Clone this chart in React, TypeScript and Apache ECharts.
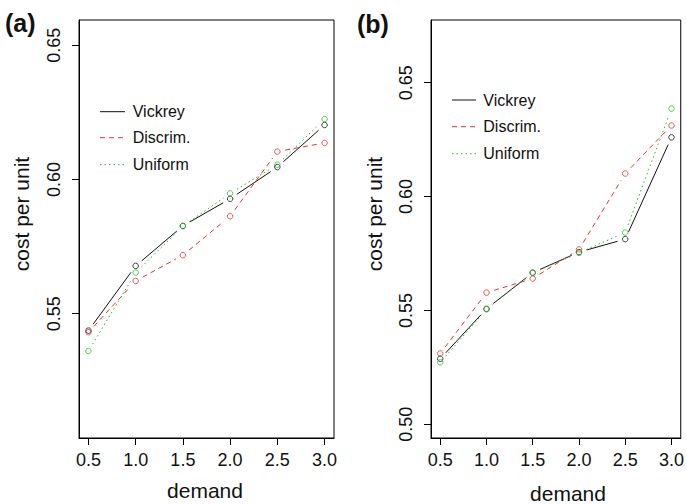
import React, { useEffect, useRef } from "react";
import * as echarts from "echarts";

const demand = [0.5, 1.0, 1.5, 2.0, 2.5, 3.0];
const xTicks = [0.5, 1.0, 1.5, 2.0, 2.5, 3.0];
const yTicksA = [0.55, 0.6, 0.65];
const yTicksB = [0.5, 0.55, 0.6, 0.65];

const vickreyA = [0.5437, 0.5678, 0.5827, 0.5928, 0.6046, 0.6203];
const discrimA = [0.5431, 0.5622, 0.5718, 0.5863, 0.6104, 0.6136];
const uniformA = [0.5361, 0.5653, 0.5826, 0.5948, 0.6055, 0.6225];

const vickreyB = [0.5288, 0.5507, 0.5666, 0.5756, 0.5813, 0.626];
const discrimB = [0.5311, 0.5578, 0.564, 0.5768, 0.6101, 0.6312];
const uniformB = [0.5272, 0.5505, 0.5664, 0.5753, 0.5842, 0.6386];

const methods = ["Vickrey", "Discrim.", "Uniform"];
const panelLabels = ["(a)", "(b)"];

const COLORS = ["#111111", "#E53030", "#2DB82D"];
const DASHES: (number[] | null)[] = [null, [5, 4], [1.5, 3]];
const FONT = "Liberation Sans, Arial, Helvetica, sans-serif";

export default function App() {
  const ref = useRef<HTMLDivElement>(null);
  useEffect(() => {
    if (!ref.current) return;
    const chart = echarts.init(ref.current, undefined, { renderer: "svg" });

    const panels = [
      { series: [vickreyA, discrimA, uniformA], yTicks: yTicksA, min: 0.5037, max: 0.6594 },
      { series: [vickreyB, discrimB, uniformB], yTicks: yTicksB, min: 0.494, max: 0.6775 },
    ];
    const grids = [
      { left: 79, top: 20, width: 255, height: 418 },
      { left: 431, top: 20, width: 253, height: 418 },
    ];

    const GAP = 8;
    const series: any[] = [];
    panels.forEach((p, pi) => {
      p.series.forEach((ys, mi) => {
        const segs = [] as number[][];
        for (let i = 0; i < demand.length - 1; i++) {
          segs.push([demand[i], ys[i], demand[i + 1], ys[i + 1]]);
        }
        series.push({
          type: "custom",
          name: methods[mi],
          xAxisIndex: pi,
          yAxisIndex: pi,
          data: segs,
          encode: { x: [0, 2], y: [1, 3] },
          silent: true,
          renderItem: (params: any, api: any) => {
            const p1 = api.coord([api.value(0), api.value(1)]);
            const p2 = api.coord([api.value(2), api.value(3)]);
            const dx = p2[0] - p1[0];
            const dy = p2[1] - p1[1];
            const len = Math.sqrt(dx * dx + dy * dy);
            if (len <= 2 * GAP) return null;
            const ux = dx / len;
            const uy = dy / len;
            const style: any = { stroke: COLORS[mi], lineWidth: 1, fill: null };
            if (DASHES[mi]) style.lineDash = DASHES[mi];
            return {
              type: "line",
              shape: {
                x1: p1[0] + ux * GAP,
                y1: p1[1] + uy * GAP,
                x2: p2[0] - ux * GAP,
                y2: p2[1] - uy * GAP,
              },
              style,
            };
          },
        });
        series.push({
          type: "scatter",
          name: methods[mi] + " pts",
          xAxisIndex: pi,
          yAxisIndex: pi,
          symbol: "circle",
          symbolSize: 5.5,
          itemStyle: { color: "rgba(0,0,0,0)", borderColor: COLORS[mi], borderWidth: 1 },
          data: demand.map((x, i) => [x, ys[i]]),
        });
      });
    });

    const xAxis = grids.map((_, i) => ({
      type: "value",
      gridIndex: i,
      min: 0.4,
      max: 3.1,
      axisLine: { show: true, lineStyle: { color: "#000", width: 1 } },
      axisTick: { show: true, inside: false, length: 7, customValues: xTicks, lineStyle: { color: "#000" } },
      axisLabel: {
        customValues: xTicks,
        formatter: (v: number) => v.toFixed(1),
        fontSize: 18,
        color: "#111",
        fontFamily: FONT,
        margin: 13,
      },
      splitLine: { show: false },
    }));
    const yAxis = panels.map((p, i) => ({
      type: "value",
      gridIndex: i,
      min: p.min,
      max: p.max,
      axisLine: { show: true, lineStyle: { color: "#000", width: 1 } },
      axisTick: { show: true, inside: false, length: 7, customValues: p.yTicks, lineStyle: { color: "#000" } },
      axisLabel: {
        customValues: p.yTicks,
        formatter: (v: number) => v.toFixed(2),
        fontSize: 18,
        rotate: 90,
        color: "#111",
        fontFamily: FONT,
        margin: 16,
      },
      splitLine: { show: false },
    }));

    const graphic: any[] = [];
    const legendPos = [
      { x1: 100, x2: 125, tx: 132.7, ys: [111.7, 137.7, 164.7] },
      { x1: 452, x2: 476, tx: 483.3, ys: [100, 126.7, 153.7] },
    ];
    legendPos.forEach((lp) => {
      methods.forEach((m, mi) => {
        const style: any = { stroke: COLORS[mi], lineWidth: 1 };
        if (DASHES[mi]) style.lineDash = DASHES[mi];
        graphic.push({
          type: "line",
          shape: { x1: lp.x1, y1: lp.ys[mi], x2: lp.x2, y2: lp.ys[mi] },
          style,
          silent: true,
        });
        graphic.push({
          type: "text",
          x: lp.tx,
          y: lp.ys[mi],
          style: { text: m, fontSize: 16, fontFamily: FONT, fill: "#111", verticalAlign: "middle", textAlign: "left" },
          silent: true,
        });
      });
    });
    // panel labels
    graphic.push({
      type: "text",
      x: 5,
      y: 23,
      style: { text: panelLabels[0], fontSize: 25, fontWeight: "bold", fontFamily: FONT, fill: "#111", verticalAlign: "middle" },
    });
    graphic.push({
      type: "text",
      x: 357,
      y: 24,
      style: { text: panelLabels[1], fontSize: 25, fontWeight: "bold", fontFamily: FONT, fill: "#111", verticalAlign: "middle" },
    });
    // axis names
    [
      { x: 205, y: 490 },
      { x: 568, y: 493 },
    ].forEach((pos) => {
      graphic.push({
        type: "text",
        x: pos.x,
        y: pos.y,
        style: { text: "demand", fontSize: 21, fontFamily: FONT, fill: "#111", textAlign: "center", verticalAlign: "middle" },
      });
    });
    [
      { x: 21, y: 214 },
      { x: 374, y: 214 },
    ].forEach((pos) => {
      graphic.push({
        type: "text",
        x: pos.x,
        y: pos.y,
        rotation: Math.PI / 2,
        style: { text: "cost per unit", fontSize: 21, fontFamily: FONT, fill: "#111", textAlign: "center", verticalAlign: "middle" },
      });
    });

    chart.setOption({
      animation: false,
      backgroundColor: "#fff",
      grid: grids.map((g) => ({ ...g, show: true, borderColor: "#000", borderWidth: 1, backgroundColor: "transparent", containLabel: false })),
      xAxis,
      yAxis,
      series,
      graphic,
    });
    return () => chart.dispose();
  }, []);
  return <div ref={ref} style={{ position: "absolute", left: 0, top: 0, width: 687, height: 504 }} />;
}
